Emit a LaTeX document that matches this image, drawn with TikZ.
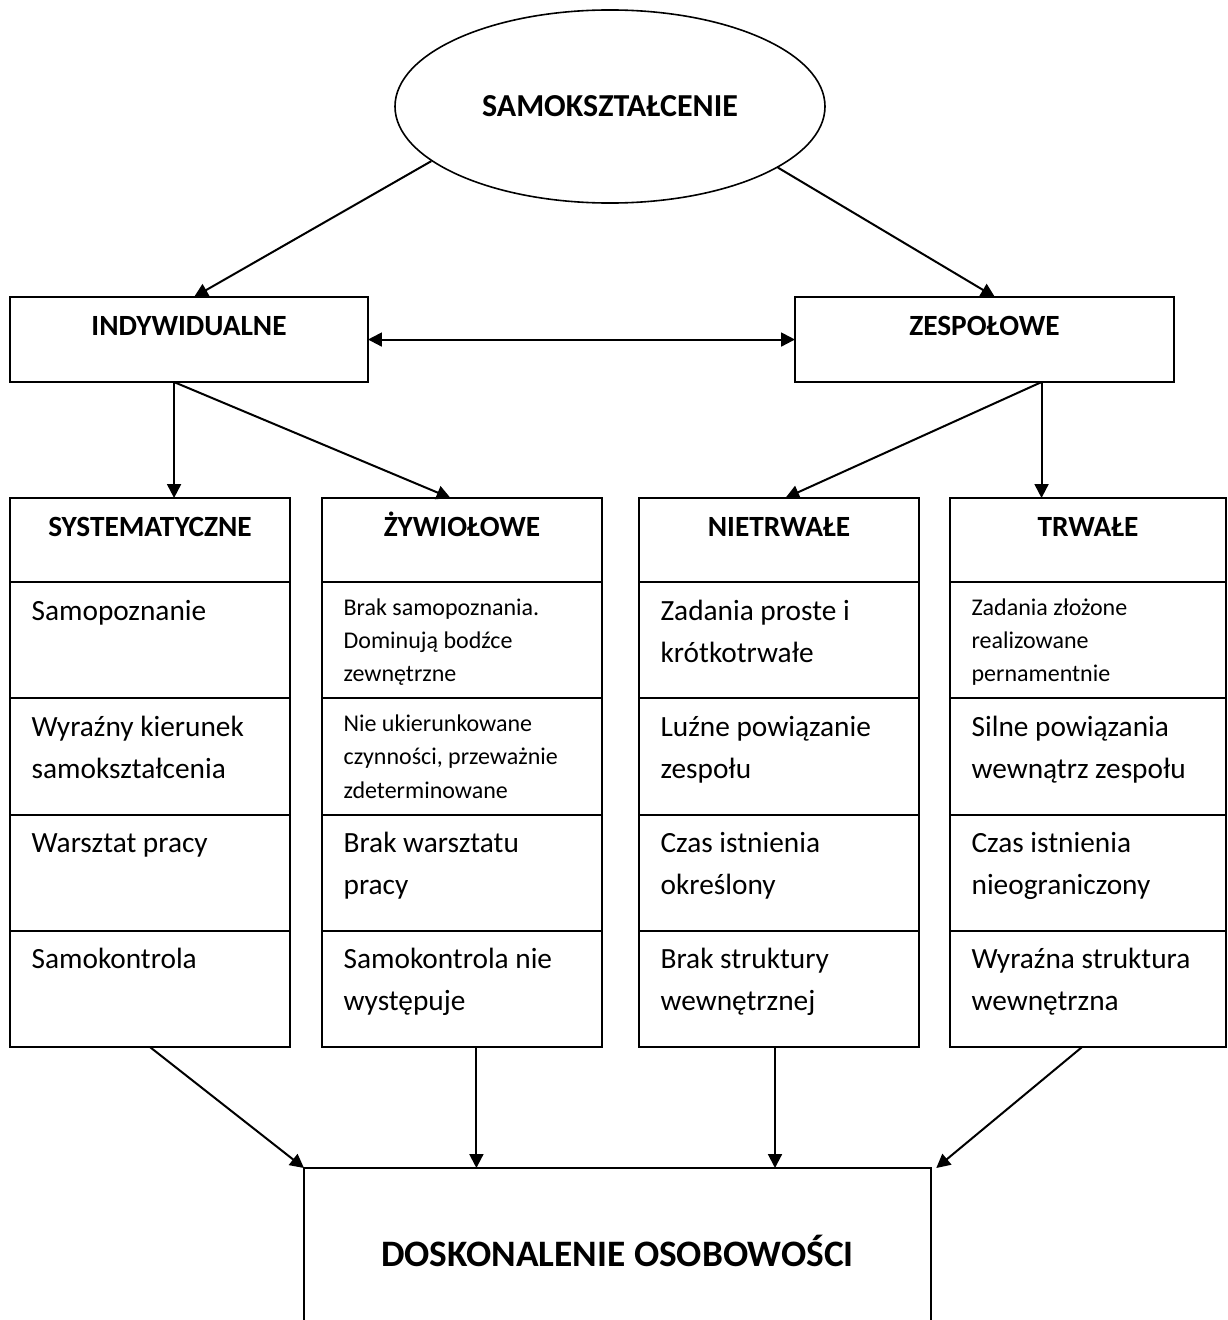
\documentclass[tikz,border=0pt]{standalone}
\usepackage{fontspec}
\setmainfont{Carlito}
\usetikzlibrary{positioning,shapes.geometric,arrows.meta}
\tikzset{
  box/.style      = {shape=rectangle, draw, line width=0.75pt,
                     inner sep=0pt, outer sep=0pt},
  upbox/.style    = {box, minimum height=31.9pt, anchor=north west},
  headbox/.style  = {box, minimum width=105pt, minimum height=31.5pt,
                     anchor=north west},
  cellbox/.style  = {box, minimum width=105pt, minimum height=43.6pt},
  oval/.style     = {shape=ellipse, draw, line width=0.6pt, inner sep=0pt,
                     minimum width=161.25pt, minimum height=72.4pt,
                     font=\bfseries\fontsize{12}{14}\selectfont},
  title/.style    = {font=\bfseries\fontsize{11}{13}\selectfont,
                     anchor=base, inner sep=0pt},
  txt/.style      = {anchor=base west, inner sep=0pt, text width=100pt,
                     align=flush left, font=\fontsize{11}{15.75}\selectfont},
  smalltxt/.style = {txt, font=\fontsize{9}{12.5}\selectfont},
  arr/.style      = {line width=0.75pt, ->}
}

\begin{document}
\begin{tikzpicture}[x=0.375pt, y=-0.375pt, >={Triangle[length=5.2pt,width=5.2pt]}]
  \useasboundingbox (0,0) rectangle (1227,1320);

  % top
  \node [oval] (samo) at (610,106.5) {SAMOKSZTAŁCENIE};
  \node [upbox, minimum width=134.25pt] (indyw) at (10,297) {};
  \node [title] (indywt) at ([yshift=-14.6pt]indyw.north) {INDYWIDUALNE};
  \node [upbox, minimum width=142.1pt] (zesp) at (795,297) {};
  \node [title] (zespt) at ([yshift=-14.6pt]zesp.north) {ZESPOŁOWE};

  % column 1
  \node [headbox] (sys) at (10,498) {};
  \node [title] (syst) at ([yshift=-14.6pt]sys.north) {SYSTEMATYCZNE};
  \node [cellbox, below=0pt of sys] (sys1) {};
  \node [cellbox, below=0pt of sys1] (sys2) {};
  \node [cellbox, below=0pt of sys2] (sys3) {};
  \node [cellbox, below=0pt of sys3] (sys4) {};
  \node [txt] (sys1t) at ([xshift=7.9pt,yshift=-14.25pt]sys1.north west) {Samopoznanie};
  \node [txt] (sys2t) at ([xshift=7.9pt,yshift=-14.25pt]sys2.north west) {Wyraźny kierunek\\samokształcenia};
  \node [txt] (sys3t) at ([xshift=7.9pt,yshift=-14.25pt]sys3.north west) {Warsztat pracy};
  \node [txt] (sys4t) at ([xshift=7.9pt,yshift=-14.25pt]sys4.north west) {Samokontrola};

  % column 2
  \node [headbox] (zyw) at (322,498) {};
  \node [title] (zywt) at ([yshift=-14.6pt]zyw.north) {ŻYWIOŁOWE};
  \node [cellbox, below=0pt of zyw] (zyw1) {};
  \node [cellbox, below=0pt of zyw1] (zyw2) {};
  \node [cellbox, below=0pt of zyw2] (zyw3) {};
  \node [cellbox, below=0pt of zyw3] (zyw4) {};
  \node [smalltxt] (zyw1t) at ([xshift=7.9pt,yshift=-12.4pt]zyw1.north west) {Brak samopoznania.\\Dominują bodźce\\zewnętrzne};
  \node [smalltxt] (zyw2t) at ([xshift=7.9pt,yshift=-12.4pt]zyw2.north west) {Nie ukierunkowane\\czynności, przeważnie\\zdeterminowane};
  \node [txt] (zyw3t) at ([xshift=7.9pt,yshift=-14.25pt]zyw3.north west) {Brak warsztatu\\pracy};
  \node [txt] (zyw4t) at ([xshift=7.9pt,yshift=-14.25pt]zyw4.north west) {Samokontrola nie\\występuje};

  % column 3
  \node [headbox] (nie) at (639,498) {};
  \node [title] (niet) at ([yshift=-14.6pt]nie.north) {NIETRWAŁE};
  \node [cellbox, below=0pt of nie] (nie1) {};
  \node [cellbox, below=0pt of nie1] (nie2) {};
  \node [cellbox, below=0pt of nie2] (nie3) {};
  \node [cellbox, below=0pt of nie3] (nie4) {};
  \node [txt] (nie1t) at ([xshift=7.9pt,yshift=-14.25pt]nie1.north west) {Zadania proste i\\krótkotrwałe};
  \node [txt] (nie2t) at ([xshift=7.9pt,yshift=-14.25pt]nie2.north west) {Luźne powiązanie\\zespołu};
  \node [txt] (nie3t) at ([xshift=7.9pt,yshift=-14.25pt]nie3.north west) {Czas istnienia\\określony};
  \node [txt] (nie4t) at ([xshift=7.9pt,yshift=-14.25pt]nie4.north west) {Brak struktury\\wewnętrznej};

  % column 4
  \node [headbox, minimum width=103.5pt] (trw) at (950,498) {};
  \node [title] (trwt) at ([yshift=-14.6pt]trw.north) {TRWAŁE};
  \node [cellbox, minimum width=103.5pt, below=0pt of trw] (trw1) {};
  \node [cellbox, minimum width=103.5pt, below=0pt of trw1] (trw2) {};
  \node [cellbox, minimum width=103.5pt, below=0pt of trw2] (trw3) {};
  \node [cellbox, minimum width=103.5pt, below=0pt of trw3] (trw4) {};
  \node [smalltxt] (trw1t) at ([xshift=7.9pt,yshift=-12.4pt]trw1.north west) {Zadania złożone\\realizowane\\pernamentnie};
  \node [txt] (trw2t) at ([xshift=7.9pt,yshift=-14.25pt]trw2.north west) {Silne powiązania\\wewnątrz zespołu};
  \node [txt] (trw3t) at ([xshift=7.9pt,yshift=-14.25pt]trw3.north west) {Czas istnienia\\nieograniczony};
  \node [txt] (trw4t) at ([xshift=7.9pt,yshift=-14.25pt]trw4.north west) {Wyraźna struktura\\wewnętrzna};

  % bottom
  \node [box, anchor=north west, minimum width=235.1pt, minimum height=64.5pt] (dosk) at (304,1168) {};
  \node [title, font=\bfseries\fontsize{14}{17}\selectfont] (doskt) at ([yshift=-37.1pt]dosk.north) {DOSKONALENIE OSOBOWOŚCI};

  % connectors
  \draw [arr] (samo.197) -- ([xshift=1.9pt]indyw.north);
  \draw [arr] (samo.340) -- ([xshift=3.9pt]zesp.north);
  \draw [line width=0.75pt, <->] (indyw) -- (zesp);

  \coordinate (indyout) at ([xshift=-5.6pt]indyw.south);
  \coordinate (zespout) at ([xshift=21.4pt]zesp.south);
  \draw [arr] (indyout) -- (indyout |- sys.north);
  \draw [arr] (indyout) -- ([xshift=-4.3pt]zyw.north);
  \draw [arr] (zespout) -- ([xshift=2.4pt]nie.north);
  \draw [arr] (zespout) -- (zespout |- trw.north);

  \coordinate (zywout) at ([xshift=5.4pt]zyw4.south);
  \draw [arr] (sys4.south) -- (dosk.north west);
  \draw [arr] (zywout) -- (zywout |- dosk.north);
  \draw [arr] ([xshift=-1.5pt]nie4.south) -- ([xshift=-1.5pt]nie4.south |- dosk.north);
  \draw [arr] ([xshift=-2.25pt]trw4.south) -- ([xshift=2pt]dosk.north east);
\end{tikzpicture}
\end{document}
